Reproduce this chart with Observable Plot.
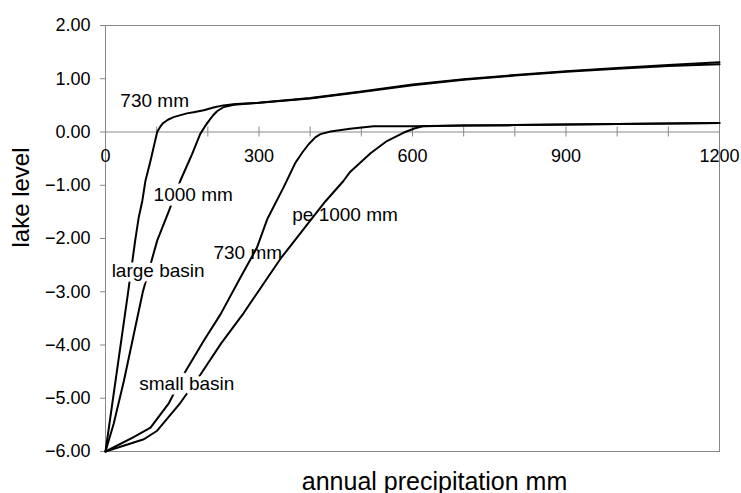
<!DOCTYPE html>
<html><head><meta charset="utf-8">
<script src="https://cdn.jsdelivr.net/npm/d3@7"></script>
<script src="https://cdn.jsdelivr.net/npm/@observablehq/plot@0.6"></script>
<style>body{margin:0;background:#fff;}</style>
</head><body><div id="chart"></div>
<script>
// Large basin, 730 mm
const lb730Precip = [0, 44, 58, 65, 72, 78, 88, 95, 101, 107, 113, 122, 133, 159, 172, 192, 211, 230, 250, 264, 300, 400, 500, 600, 700, 800, 900, 1000, 1100, 1200];
const lb730Level  = [-6, -3.02, -2.04, -1.6, -1.29, -0.92, -0.54, -0.25, 0, 0.1, 0.17, 0.23, 0.28, 0.35, 0.37, 0.41, 0.46, 0.5, 0.52, 0.53, 0.55, 0.64, 0.76, 0.89, 0.99, 1.07, 1.14, 1.20, 1.26, 1.31];
// Large basin, 1000 mm
const lb1000Precip = [0, 16, 36, 73, 101, 124, 146, 169, 185, 194, 202, 210, 218, 231, 251, 300, 400, 500, 600, 700, 800, 900, 1000, 1100, 1200];
const lb1000Level  = [-6, -5.48, -4.67, -3.0, -2.04, -1.48, -0.92, -0.42, -0.04, 0.1, 0.21, 0.31, 0.39, 0.47, 0.51, 0.55, 0.63, 0.75, 0.88, 0.98, 1.06, 1.13, 1.19, 1.24, 1.27];
// Small basin, 730 mm
const sb730Precip = [0, 55, 88, 124, 153, 192, 225, 260, 296, 316, 348, 371, 385, 397, 410, 420, 440, 478, 524, 600, 700, 800, 900, 1000, 1100, 1200];
const sb730Level  = [-6, -5.73, -5.55, -5.09, -4.55, -3.92, -3.42, -2.8, -2.17, -1.64, -1.04, -0.58, -0.38, -0.23, -0.1, -0.04, 0.01, 0.06, 0.11, 0.11, 0.12, 0.13, 0.14, 0.15, 0.16, 0.17];
// Small basin, pe 1000 mm
const sb1000Precip = [0, 75, 101, 146, 186, 226, 270, 342, 407, 430, 465, 478, 518, 550, 583, 605, 622, 700, 800, 900, 1000, 1100, 1200];
const sb1000Level  = [-6, -5.77, -5.61, -5.09, -4.55, -3.97, -3.40, -2.38, -1.58, -1.30, -0.92, -0.75, -0.40, -0.17, -0.01, 0.07, 0.11, 0.12, 0.13, 0.14, 0.15, 0.16, 0.17];

const yTicks = [-6, -5, -4, -3, -2, -1, 0, 1, 2];
const xTickMarks = [0, 100, 200, 300, 400, 500, 600, 700, 800, 900, 1000, 1100, 1200];
const xTickLabels = [0, 300, 600, 900, 1200];

// curve annotations (text, anchor precip, anchor level, masked)
const annotations = [
  {text: "730 mm", x: 29, y: 0.47, mask: true},
  {text: "1000 mm", x: 94, y: -1.29, mask: true},
  {text: "large basin", x: 12, y: -2.72, mask: true},
  {text: "730 mm", x: 211, y: -2.38, mask: false},
  {text: "pe 1000 mm", x: 365, y: -1.68, mask: false},
  {text: "small basin", x: 66, y: -4.84, mask: true}
];

const seriesDefs = [
  ["large 730", lb730Precip, lb730Level],
  ["large 1000", lb1000Precip, lb1000Level],
  ["small 730", sb730Precip, sb730Level],
  ["small 1000", sb1000Precip, sb1000Level]
];
const rows = seriesDefs.flatMap(([name, xs, ys]) => xs.map((p, i) => ({series: name, precip: p, level: ys[i]})));

const font = "'Liberation Sans', Arial, Helvetica, sans-serif";
const chart = Plot.plot({
  width: 741, height: 493,
  marginLeft: 105, marginRight: 22, marginTop: 25, marginBottom: 42,
  style: {fontFamily: font, background: "white", color: "black"},
  x: {domain: [0, 1200], axis: null},
  y: {domain: [-6, 2], axis: null},
  marks: [
    Plot.frame({stroke: "#888"}),
    Plot.ruleY([0], {stroke: "#888"}),
    Plot.ruleX(xTickMarks, {x: d => d, y1: 0, y2: 0, insetTop: -5, insetBottom: -5, stroke: "#888"}),
    Plot.axisY(yTicks, {tickSize: 5, tickPadding: 10, tickFormat: d3.format(".2f"), fontSize: 18, label: null, stroke: "#888"}),
    Plot.text(xTickLabels, {x: d => d, y: () => 0, text: d => String(d), dy: 24, lineAnchor: "middle", fontSize: 18, fill: "black"}),
    Plot.line(rows, {x: "precip", y: "level", z: "series", stroke: "black", strokeWidth: 2, curve: "linear"}),
    Plot.text(annotations.filter(d => d.mask), {x: "x", y: "y", text: "text", textAnchor: "start", lineAnchor: "bottom", fontSize: 19, fill: "black", stroke: "white", strokeWidth: 9}),
    Plot.text(annotations.filter(d => !d.mask), {x: "x", y: "y", text: "text", textAnchor: "start", lineAnchor: "bottom", fontSize: 19, fill: "black"}),
    Plot.text(["annual precipitation mm"], {frameAnchor: "bottom", dx: 22, dy: 38, lineAnchor: "bottom", fontSize: 25, fill: "black"}),
    Plot.text(["lake level"], {frameAnchor: "left", rotate: -90, dx: -77, dy: 9, lineAnchor: "bottom", fontSize: 24, fill: "black"})
  ]
});
document.getElementById("chart").appendChild(chart);
</script>
</body></html>
